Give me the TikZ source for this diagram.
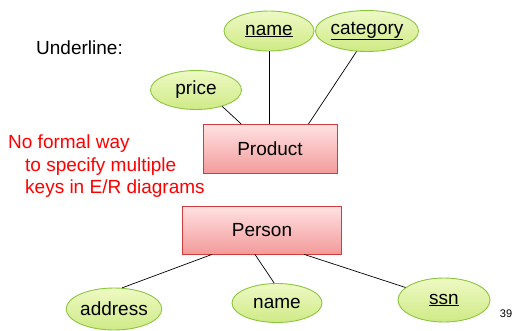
\documentclass[tikz,border=0pt]{standalone}
\usepackage{fontspec}
\setmainfont{Liberation Sans}
\usetikzlibrary{shapes.geometric}

\definecolor{attrfill}{HTML}{EEF9C4}
\definecolor{attrfilldark}{HTML}{CFEA86}
\definecolor{attrline}{HTML}{8CC63F}
\definecolor{entfill}{HTML}{FFE2E2}
\definecolor{entfilldark}{HTML}{F39A9A}
\definecolor{entline}{HTML}{D23C3C}

\begin{document}
\begin{tikzpicture}[x=1pt, y=1pt,
    attr/.style={ellipse, draw=attrline, line width=0.9pt, top color=attrfill,
        bottom color=attrfilldark, inner sep=0pt, font=\fontsize{19}{22}\selectfont},
    entity/.style={rectangle, draw=entline, line width=0.9pt, top color=entfill,
        bottom color=entfilldark, font=\fontsize{19}{22}\selectfont},
    link/.style={black, line width=0.7pt}]
    \useasboundingbox (0,0) rectangle (514,330);

    \node[entity, minimum width=134pt, minimum height=49pt] (product) at (270,181) {Product};
    \node[attr, minimum width=90pt, minimum height=40pt] (name) at (269,299) {\underline{name}};
    \node[attr, minimum width=91pt, minimum height=41pt] (category) at (367,299) {\underline{category}};
    \node[attr, minimum width=91pt, minimum height=39pt] (price) at (196,240) {price};
    \draw[link] (price.-32) -- (product.139);
    \draw[link] (name) -- (name |- product.north);
    \draw[link] (category.243) -- (product.33);

    \node[entity, minimum width=159pt, minimum height=48pt] (person) at (262,100) {Person};
    \node[attr, minimum width=92pt, minimum height=42pt] (address) at (114,21) {address};
    \node[attr, minimum width=90pt, minimum height=39pt] (pname) at (277,27) {name};
    \node[attr, minimum width=92pt, minimum height=44pt] (ssn) at (444,30) {\underline{ssn}};
    \draw[link] (person.206) -- (address.69);
    \draw[link] (person.254) -- (pname.98);
    \draw[link] (person.-30) -- (ssn.162);

    % text
    \node[anchor=west, inner sep=0pt, font=\fontsize{19}{22}\selectfont] (underline) at (36,282) {Underline:};
    \node[anchor=north west, inner sep=0pt, align=left, text=red,
        font=\fontsize{19}{22.5}\selectfont] (note) at (8,195)
        {No formal way\\\hspace*{17pt}to specify multiple\\\hspace*{17pt}keys in E/R diagrams};
    \node[inner sep=0pt, font=\fontsize{11}{13}\selectfont] (page) at (506,16) {39};
\end{tikzpicture}
\end{document}
